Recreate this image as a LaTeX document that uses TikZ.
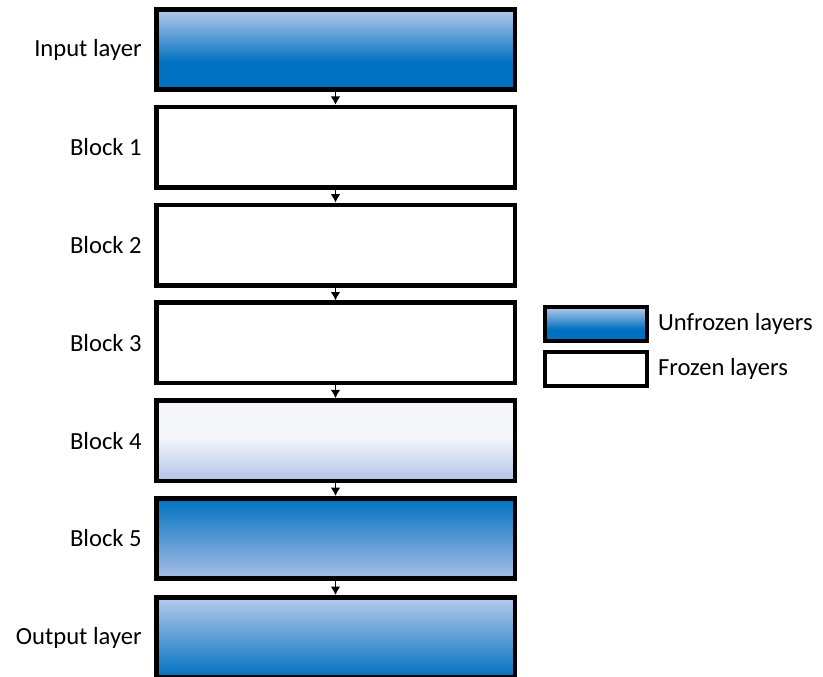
\documentclass[tikz,border=0pt]{standalone}
\usepackage{fontspec}
\setmainfont{Carlito}
\usetikzlibrary{arrows.meta,positioning}

\definecolor{deepblue}{HTML}{0070C0}
\definecolor{skyblue}{HTML}{B5CBEA}
\definecolor{paleblue}{HTML}{B0C3E6}
\definecolor{whiteblue}{HTML}{F5F7FB}
\definecolor{midblue}{HTML}{A9C0E6}

\pgfdeclareverticalshading{inputshade}{100bp}{color(0bp)=(deepblue); color(25bp)=(deepblue); color(42bp)=(deepblue); color(75bp)=(skyblue); color(100bp)=(skyblue)}
\pgfdeclareverticalshading{paleshade}{100bp}{color(0bp)=(paleblue); color(25bp)=(paleblue); color(52bp)=(whiteblue); color(75bp)=(whiteblue); color(100bp)=(whiteblue)}
\pgfdeclareverticalshading{fadeshade}{100bp}{color(0bp)=(midblue); color(25bp)=(midblue); color(75bp)=(deepblue); color(100bp)=(deepblue)}
\pgfdeclareverticalshading{outputshade}{100bp}{color(0bp)=(deepblue); color(25bp)=(deepblue); color(75bp)=(skyblue); color(100bp)=(skyblue)}

\begin{document}
\begin{tikzpicture}[x=0.025cm, y=-0.025cm,
        font=\fontsize{17.5pt}{20pt}\selectfont,
        layerbox/.style={draw, line width=3.2pt, minimum width=8.96cm, minimum height=2.01cm, inner sep=0pt},
        legbox/.style={draw, line width=3pt, minimum width=2.54cm, minimum height=0.84cm, inner sep=0pt},
        tag/.style={inner sep=0pt},
        flow/.style={-{Latex[length=6pt,width=7pt]}, line width=1.3pt}]
        \useasboundingbox (0, 0) rectangle (823, 677);

        \node[layerbox, shade, shading=inputshade] at (335.5, 49.5)  (inp) {};
        \node[layerbox, fill=white]                at (335.5, 147.3) (b1)  {};
        \node[layerbox, fill=white]                at (335.5, 245.1) (b2)  {};
        \node[layerbox, fill=white]                at (335.5, 342.9) (b3)  {};
        \node[layerbox, shade, shading=paleshade]  at (335.5, 440.7) (b4)  {};
        \node[layerbox, shade, shading=fadeshade]  at (335.5, 538.5) (b5)  {};
        \node[layerbox, shade, shading=outputshade] at (335.5, 637.5) (out) {};

        \node[tag, left=0.3cm of inp] (tinp) {Input layer};
        \node[tag, left=0.3cm of b1]  (tb1)  {Block 1};
        \node[tag, left=0.3cm of b2]  (tb2)  {Block 2};
        \node[tag, left=0.3cm of b3]  (tb3)  {Block 3};
        \node[tag, left=0.3cm of b4]  (tb4)  {Block 4};
        \node[tag, left=0.3cm of b5]  (tb5)  {Block 5};
        \node[tag, left=0.3cm of out] (tout) {Output layer};

        \draw[flow] (inp) -- (b1);
        \draw[flow] (b1) -- (b2);
        \draw[flow] (b2) -- (b3);
        \draw[flow] (b3) -- (b4);
        \draw[flow] (b4) -- (b5);
        \draw[flow] (b5) -- (out);

        % legend
        \node[legbox, shade, shading=inputshade] at (596, 324) (kunf) {};
        \node[legbox, fill=white]                at (596, 369) (kfro) {};
        \node[tag, right=0.22cm of kunf] (tunf) {Unfrozen layers};
        \node[tag, right=0.22cm of kfro] (tfro) {Frozen layers};
    \end{tikzpicture}
\end{document}
